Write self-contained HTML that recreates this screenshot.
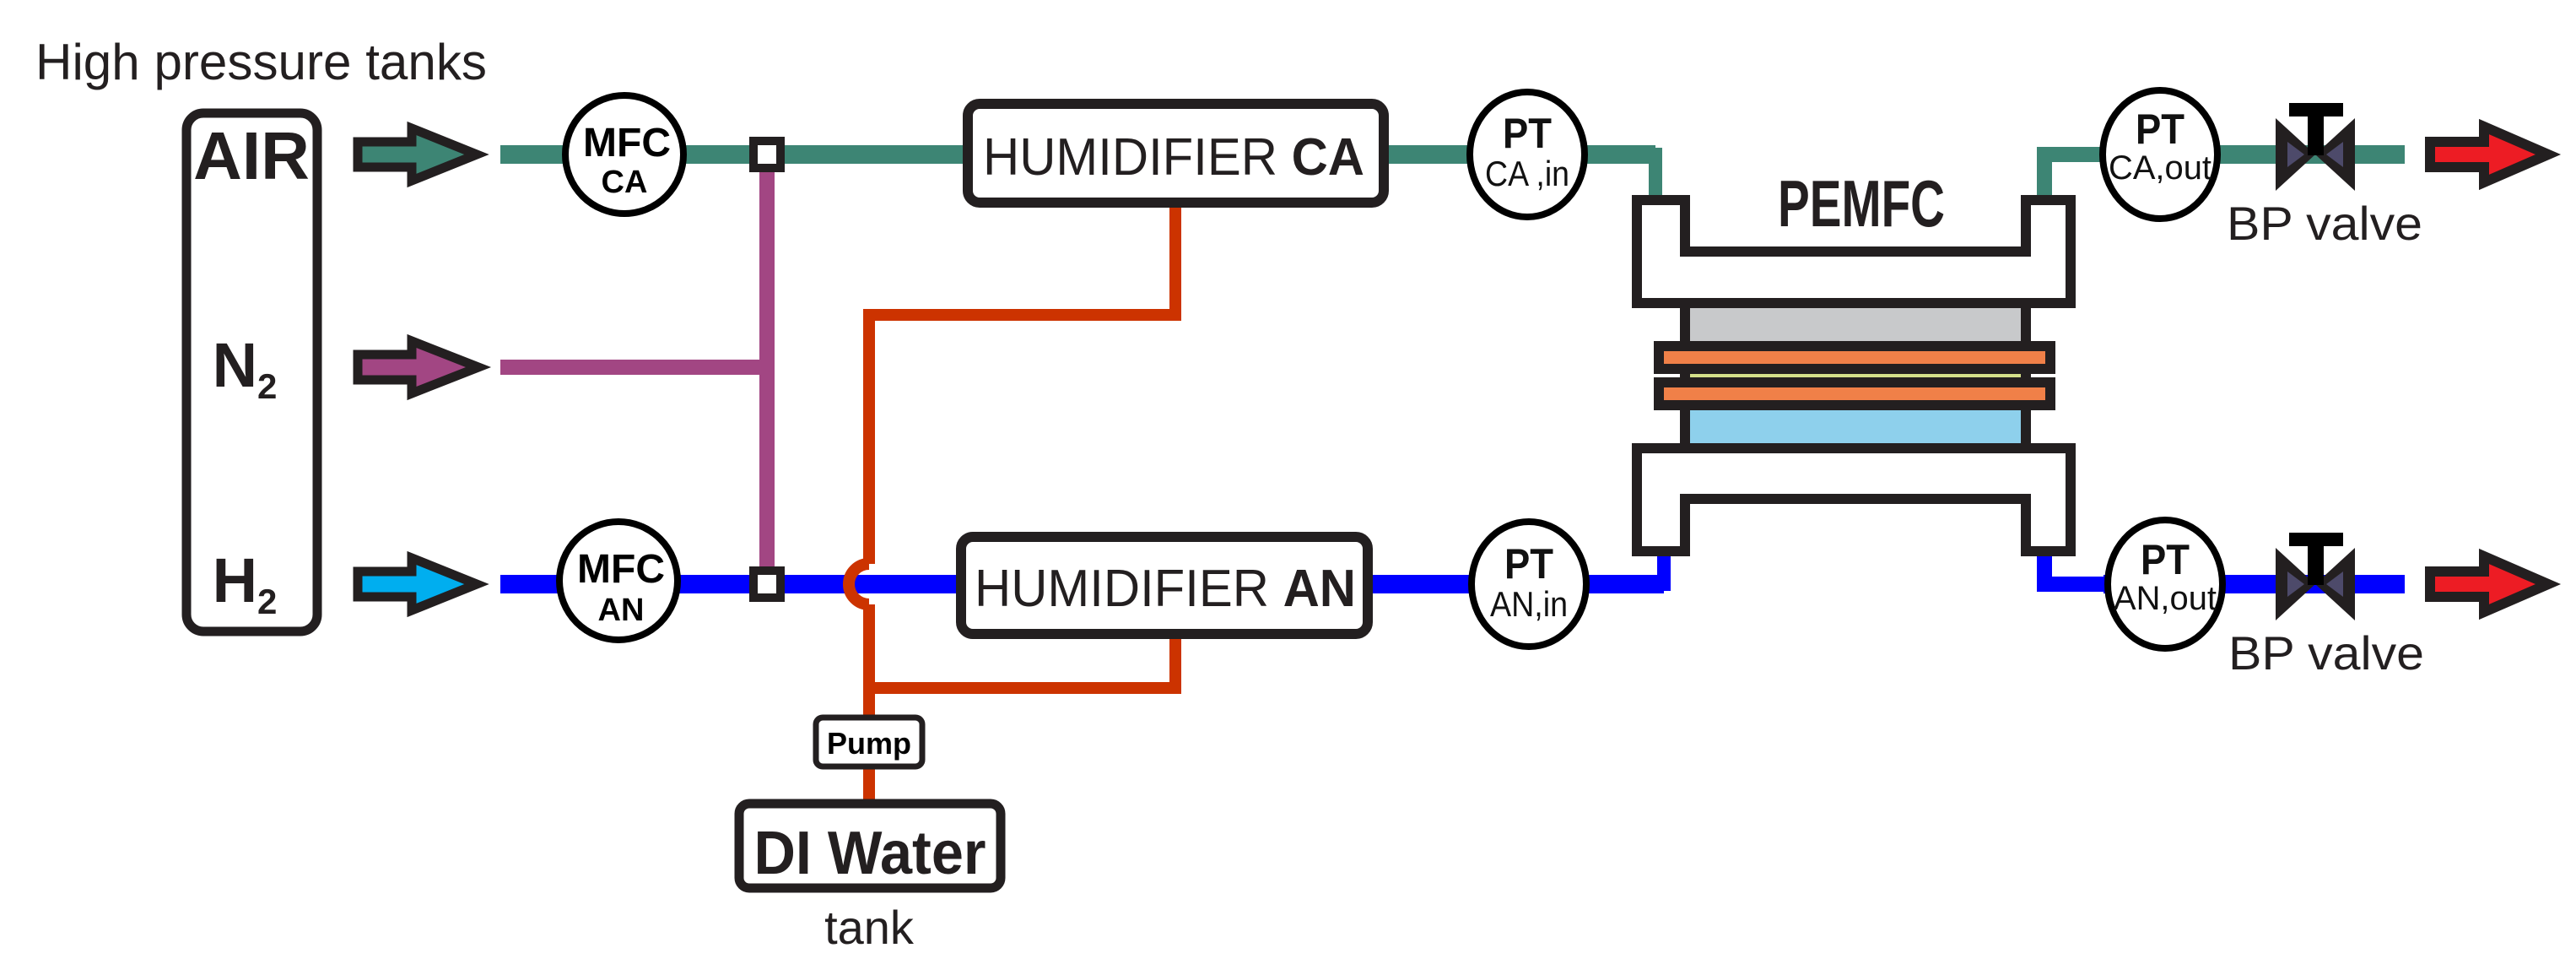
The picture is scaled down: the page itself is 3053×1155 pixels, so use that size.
<!DOCTYPE html>
<html><head><meta charset="utf-8"><style>html,body{margin:0;padding:0;background:#fff}svg{display:block}</style></head>
<body>
<svg width="3053" height="1155" viewBox="0 0 3053 1155" xmlns="http://www.w3.org/2000/svg" font-family="Liberation Sans, sans-serif">
<rect width="3053" height="1155" fill="#fff"/>
<text x="42" y="94" font-size="60" fill="#231f20" textLength="535" lengthAdjust="spacingAndGlyphs">High pressure tanks</text>
<!-- tank -->
<rect x="221" y="134" width="155" height="614" rx="20" fill="#fff" stroke="#231f20" stroke-width="11"/>
<text x="298" y="212" font-size="80" font-weight="bold" text-anchor="middle" fill="#231f20">AIR</text>
<text x="290" y="458" font-size="74" font-weight="bold" text-anchor="middle" fill="#231f20">N<tspan font-size="42" dy="14">2</tspan></text>
<text x="290" y="713" font-size="74" font-weight="bold" text-anchor="middle" fill="#231f20">H<tspan font-size="42" dy="14">2</tspan></text>
<!-- inlet arrows -->
<g stroke="#231f20" stroke-width="11" stroke-linejoin="miter">
<polygon points="424,168 488,168 488,152 565,183 488,214 488,198 424,198" fill="#3d8574"/>
<polygon points="424,420 488,420 488,404 567,435 488,466 488,450 424,450" fill="#a24683"/>
<polygon points="424,677 488,677 488,661 565,692 488,723 488,707 424,707" fill="#00aeef"/>
</g>
<!-- pipes -->
<line x1="593" y1="183" x2="1962" y2="183" stroke="#3d8574" stroke-width="22"/>
<polyline points="1900,183 1962,183 1962,233" fill="none" stroke="#3d8574" stroke-width="16"/>
<line x1="593" y1="435" x2="909" y2="435" stroke="#a24683" stroke-width="18"/>
<line x1="909" y1="183" x2="909" y2="692" stroke="#a24683" stroke-width="18"/>
<line x1="593" y1="692" x2="1972" y2="692" stroke="#0000ff" stroke-width="22"/>
<polyline points="1900,692 1972,692 1972,657" fill="none" stroke="#0000ff" stroke-width="16"/>
<polyline points="2423,233 2423,183 2850,183" fill="none" stroke="#3d8574" stroke-width="18"/>
<line x1="2493" y1="183" x2="2850" y2="183" stroke="#3d8574" stroke-width="22"/>
<polyline points="2423,657 2423,692 2850,692" fill="none" stroke="#0000ff" stroke-width="18"/>
<line x1="2493" y1="692" x2="2850" y2="692" stroke="#0000ff" stroke-width="22"/>
<!-- red water -->
<g fill="none" stroke="#cc3300" stroke-width="14">
<polyline points="1393,244 1393,373 1030,373 1030,668"/>
<path d="M1030,668 A24,24 0 0 0 1030,716"/>
<polyline points="1030,716 1030,950"/>
<polyline points="1030,815 1393,815 1393,755"/>
</g>
<!-- junctions -->
<rect x="893" y="167" width="32" height="32" fill="#fff" stroke="#231f20" stroke-width="10"/>
<rect x="893" y="676" width="32" height="32" fill="#fff" stroke="#231f20" stroke-width="10"/>
<!-- MFC -->
<g stroke="#000" stroke-width="8" fill="#fff">
<ellipse cx="740" cy="183" rx="70" ry="70"/>
<ellipse cx="733" cy="688" rx="70" ry="70"/>
</g>
<text x="743" y="185" font-size="48" font-weight="bold" text-anchor="middle">MFC</text>
<text x="740" y="228" font-size="38" font-weight="bold" text-anchor="middle">CA</text>
<text x="736" y="690" font-size="48" font-weight="bold" text-anchor="middle">MFC</text>
<text x="736" y="735" font-size="38" font-weight="bold" text-anchor="middle">AN</text>
<!-- humidifiers -->
<rect x="1147" y="123" width="493" height="117" rx="14" fill="#fff" stroke="#231f20" stroke-width="12"/>
<text x="1165" y="207" font-size="62" fill="#231f20" textLength="452" lengthAdjust="spacingAndGlyphs">HUMIDIFIER <tspan font-weight="bold">CA</tspan></text>
<rect x="1139" y="636" width="482" height="115" rx="14" fill="#fff" stroke="#231f20" stroke-width="12"/>
<text x="1155" y="718" font-size="62" fill="#231f20" textLength="452" lengthAdjust="spacingAndGlyphs">HUMIDIFIER <tspan font-weight="bold">AN</tspan></text>
<!-- PT sensors -->
<g stroke="#000" stroke-width="8" fill="#fff">
<ellipse cx="1810" cy="183" rx="68" ry="74"/>
<ellipse cx="1812" cy="692" rx="68" ry="74"/>
<ellipse cx="2560" cy="183" rx="68" ry="76"/>
<ellipse cx="2566" cy="692" rx="68" ry="76"/>
</g>
<g text-anchor="middle" fill="#111">
<text x="1810" y="175" font-size="50" font-weight="bold" textLength="58" lengthAdjust="spacingAndGlyphs">PT</text>
<text x="1810" y="220" font-size="42" textLength="100" lengthAdjust="spacingAndGlyphs">CA ,in</text>
<text x="1812" y="685" font-size="50" font-weight="bold" textLength="58" lengthAdjust="spacingAndGlyphs">PT</text>
<text x="1812" y="730" font-size="42" textLength="92" lengthAdjust="spacingAndGlyphs">AN,in</text>
<text x="2560" y="170" font-size="50" font-weight="bold" textLength="58" lengthAdjust="spacingAndGlyphs">PT</text>
<text x="2560" y="212" font-size="40" textLength="122" lengthAdjust="spacingAndGlyphs">CA,out</text>
<text x="2566" y="680" font-size="50" font-weight="bold" textLength="58" lengthAdjust="spacingAndGlyphs">PT</text>
<text x="2566" y="722" font-size="40" textLength="122" lengthAdjust="spacingAndGlyphs">AN,out</text>
</g>
<!-- PEMFC -->
<g stroke="#231f20" stroke-width="12">
<rect x="1997" y="359" width="404" height="172" fill="#c8c9cb"/>
<rect x="1997" y="445" width="404" height="86" fill="#8ed0ec"/>
<rect x="1997" y="437" width="404" height="16" fill="#d4e08a"/>
<rect x="1966" y="410" width="464" height="27" fill="#f08048"/>
<rect x="1966" y="453" width="464" height="27" fill="#f08048"/>
<path d="M1940,237 H1997 V298 H2401 V237 H2454 V359 H1940 Z" fill="#fff"/>
<path d="M1940,531 H2454 V653 H2401 V591 H1997 V653 H1940 Z" fill="#fff"/>
</g>
<text x="2206" y="268" font-size="78" font-weight="bold" text-anchor="middle" fill="#231f20" textLength="198" lengthAdjust="spacingAndGlyphs">PEMFC</text>
<!-- valves -->
<g>
<polygon points="2697,140 2744,183 2697,226" fill="#231f20"/>
<polygon points="2791,140 2744,183 2791,226" fill="#231f20"/>
<polygon points="2711,168 2731,183 2711,198" fill="#4d4a6a"/>
<polygon points="2777,168 2757,183 2777,198" fill="#4d4a6a"/>
<rect x="2713" y="122" width="64" height="16" fill="#000"/>
<rect x="2735" y="122" width="19" height="62" fill="#000"/>
</g>
<g transform="translate(0,509)">
<polygon points="2697,140 2744,183 2697,226" fill="#231f20"/>
<polygon points="2791,140 2744,183 2791,226" fill="#231f20"/>
<polygon points="2711,168 2731,183 2711,198" fill="#4d4a6a"/>
<polygon points="2777,168 2757,183 2777,198" fill="#4d4a6a"/>
<rect x="2713" y="122" width="64" height="16" fill="#000"/>
<rect x="2735" y="122" width="19" height="62" fill="#000"/>
</g>
<text x="2639" y="284" font-size="56" fill="#231f20" textLength="232" lengthAdjust="spacingAndGlyphs">BP valve</text>
<text x="2641" y="793" font-size="56" fill="#231f20" textLength="232" lengthAdjust="spacingAndGlyphs">BP valve</text>
<!-- exit arrows -->
<g stroke="#231f20" stroke-width="12">
<polygon points="2880,168 2944,168 2944,150 3020,183 2944,216 2944,198 2880,198" fill="#ed1c24"/>
<polygon points="2880,677 2944,677 2944,659 3020,692 2944,725 2944,707 2880,707" fill="#ed1c24"/>
</g>
<!-- pump & DI -->
<rect x="967" y="850" width="126" height="58" rx="8" fill="#fff" stroke="#231f20" stroke-width="7"/>
<text x="1030" y="893" font-size="36" font-weight="bold" text-anchor="middle">Pump</text>
<rect x="876" y="952" width="310" height="100" rx="12" fill="#fff" stroke="#231f20" stroke-width="11"/>
<text x="1031" y="1035" font-size="72" font-weight="bold" text-anchor="middle" fill="#231f20" textLength="275" lengthAdjust="spacingAndGlyphs">DI Water</text>
<text x="1030" y="1118" font-size="56" text-anchor="middle" fill="#231f20">tank</text>
</svg>
</body></html>
